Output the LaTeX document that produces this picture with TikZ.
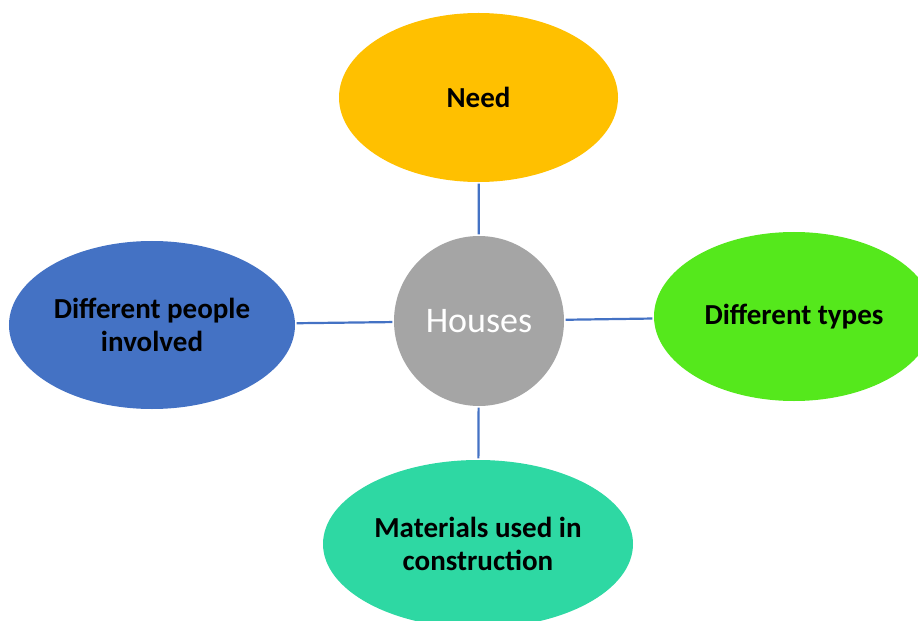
\documentclass[tikz,border=0pt]{standalone}
\usepackage{fontspec}
\setmainfont{Carlito}
\usetikzlibrary{shapes.geometric}
\definecolor{needorange}{HTML}{FFC000}
\definecolor{typesgreen}{HTML}{55E81C}
\definecolor{peopleblue}{HTML}{4472C4}
\definecolor{materialteal}{HTML}{2ED8A3}
\definecolor{housegray}{HTML}{A5A5A5}
\tikzset{
  topic/.style={ ellipse, inner sep=0pt, align=center, font=\fontsize{29bp}{33bp}\selectfont\bfseries },
  link/.style={ draw=peopleblue, line width=2.2bp, shorten <=1.5bp, shorten >=1.5bp }
}
\begin{document}
\begin{tikzpicture}[ x=1bp, y=-1bp ]
	  \useasboundingbox (0,0) rectangle (918,621);

	  \node [ circle, fill=housegray, minimum size=170bp, inner sep=0pt, text=white, font=\fontsize{36bp}{40bp}\selectfont ] (houses) at (479,321) {Houses};

	  \node [ topic, fill=needorange, minimum width=279bp, minimum height=169bp ] (need) at (478.5,97.5) {Need};
	  \node [ topic, fill=typesgreen, minimum width=280bp, minimum height=169bp ] (types) at (794,316.5) {Different types};
	  \node [ topic, fill=peopleblue, minimum width=286bp, minimum height=168bp ] (people) at (152,325) {Different people\\involved};
	  \node [ topic, fill=materialteal, minimum width=310bp, minimum height=168bp ] (materials) at (478,544) {Materials used in\\construction};

	  \draw [ link ] (need) -- (houses);
	  \draw [ link ] (houses) -- (types);
	  \draw [ link ] (people) -- (houses);
	  \draw [ link ] (houses) -- (materials);
	\end{tikzpicture}
\end{document}
